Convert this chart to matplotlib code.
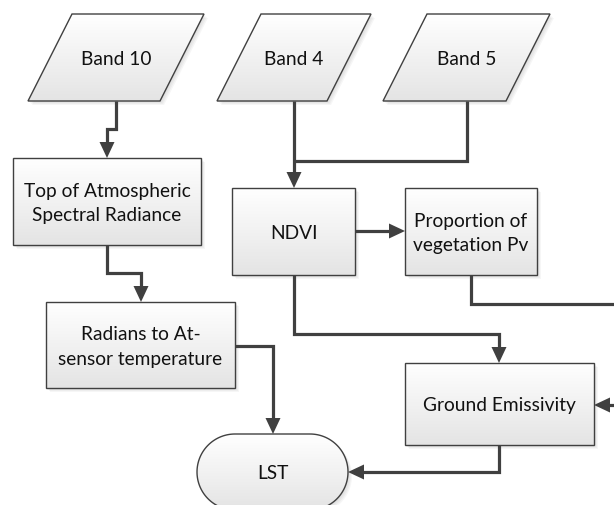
import matplotlib
matplotlib.use("Agg")
import matplotlib.pyplot as plt
import numpy as np
from matplotlib.patches import Polygon, Rectangle
from matplotlib.colors import LinearSegmentedColormap

plt.rcParams['font.family'] = ['Lato', 'DejaVu Sans']

# node layout (pixel coords, y down): name, shape, x0, y0, x1, y1, label
node_names = ['band10', 'band4', 'band5', 'toa', 'ndvi', 'pv', 'rad', 'emis', 'lst']
node_shapes = ['para', 'para', 'para', 'rect', 'rect', 'rect', 'rect', 'rect', 'term']
node_x0 = [28, 217, 383, 13, 232, 405, 46, 405, 197]
node_y0 = [15, 15, 15, 159, 189, 189, 303, 364, 435]
node_x1 = [204, 371, 550, 201, 355, 537, 235, 594, 348]
node_y1 = [102, 102, 102, 246, 276, 276, 389, 446, 511]
node_labels = ['Band 10', 'Band 4', 'Band 5',
               'Top of Atmospheric\nSpectral Radiance', 'NDVI',
               'Proportion of\nvegetation Pv', 'Radians to At-\nsensor temperature',
               'Ground Emissivity', 'LST']
slant = 44

# connectors as waypoint lists; last point gets an arrowhead if arrow is True
edges = [
    ([(116, 102), (116, 130), (107, 130), (107, 159)], True),
    ([(294, 102), (294, 189)], True),
    ([(467, 102), (467, 162), (294, 162)], False),
    ([(107, 246), (107, 274), (141, 274), (141, 303)], True),
    ([(235, 347), (273, 347), (273, 435)], True),
    ([(355, 232), (405, 232)], True),
    ([(294, 276), (294, 335), (499, 335), (499, 364)], True),
    ([(471, 276), (471, 305), (650, 305), (650, 406), (594, 406)], True),
    ([(499, 446), (499, 473), (348, 473)], True),
]

W, H = 614, 506
fig = plt.figure(figsize=(W / 100, H / 100), dpi=100)
ax = fig.add_axes([0, 0, 1, 1])
ax.set_xlim(0, W)
ax.set_ylim(H, 0)
ax.axis('off')

line_col = '#404040'
grad = LinearSegmentedColormap.from_list('g', ['#ffffff', '#e4e4e4'])
gimg = np.linspace(0, 1, 256).reshape(-1, 1)


def make_patch(shape, x0, y0, x1, y1, dx=0, dy=0, **kw):
    x0, x1, y0, y1 = x0 + dx, x1 + dx, y0 + dy, y1 + dy
    if shape == 'para':
        pts = [(x0 + slant, y0), (x1, y0), (x1 - slant, y1), (x0, y1)]
        return Polygon(pts, closed=True, **kw)
    if shape == 'term':
        r = (y1 - y0) / 2
        cy = (y0 + y1) / 2
        t = np.linspace(-np.pi / 2, np.pi / 2, 60)
        right = np.column_stack([x1 - r + r * np.cos(t), cy + r * np.sin(t)])
        left = np.column_stack([x0 + r - r * np.cos(t), cy - r * np.sin(t)])
        return Polygon(np.vstack([right, left]), closed=True, **kw)
    return Rectangle((x0, y0), x1 - x0, y1 - y0, **kw)


for i, name in enumerate(node_names):
    shp = node_shapes[i]
    x0, y0, x1, y1 = node_x0[i], node_y0[i], node_x1[i], node_y1[i]
    # soft shadow
    for k in range(1, 5):
        ax.add_patch(make_patch(shp, x0, y0, x1, y1, dx=k, dy=k,
                                facecolor='#808080', edgecolor='none',
                                alpha=0.07, zorder=1))
    base = make_patch(shp, x0, y0, x1, y1, facecolor='white',
                      edgecolor='none', zorder=2)
    ax.add_patch(base)
    im = ax.imshow(gimg, cmap=grad, extent=(x0, x1, y1, y0), aspect='auto',
                   origin='upper', zorder=3, interpolation='bilinear')
    im.set_clip_path(base)
    ax.add_patch(make_patch(shp, x0, y0, x1, y1, facecolor='none',
                            edgecolor=line_col, linewidth=1.0, zorder=4))
    cx = (x0 + x1) / 2
    cy = (y0 + y1) / 2
    ax.text(cx, cy + 1, node_labels[i], ha='center', va='center',
            fontsize=13.8, color='#111111', linespacing=1.5, zorder=5)

ah_len, ah_w = 16, 15
for pts, arrow in edges:
    xs = [p[0] for p in pts]
    ys = [p[1] for p in pts]
    (xa, ya), (xb, yb) = pts[-2], pts[-1]
    d = np.array([xb - xa, yb - ya], dtype=float)
    d /= np.hypot(*d)
    if arrow:
        xs[-1] = xb - d[0] * (ah_len - 2)
        ys[-1] = yb - d[1] * (ah_len - 2)
    ax.plot(xs, ys, color=line_col, linewidth=2.3, solid_joinstyle='miter',
            solid_capstyle='butt', zorder=6)
    if arrow:
        n = np.array([-d[1], d[0]])
        tip = np.array([xb, yb])
        bc = tip - d * ah_len
        tri = [tip, bc + n * ah_w / 2, bc - n * ah_w / 2]
        ax.add_patch(Polygon(tri, closed=True, facecolor=line_col,
                             edgecolor='none', zorder=7))

fig.savefig('out.png', dpi=100)
